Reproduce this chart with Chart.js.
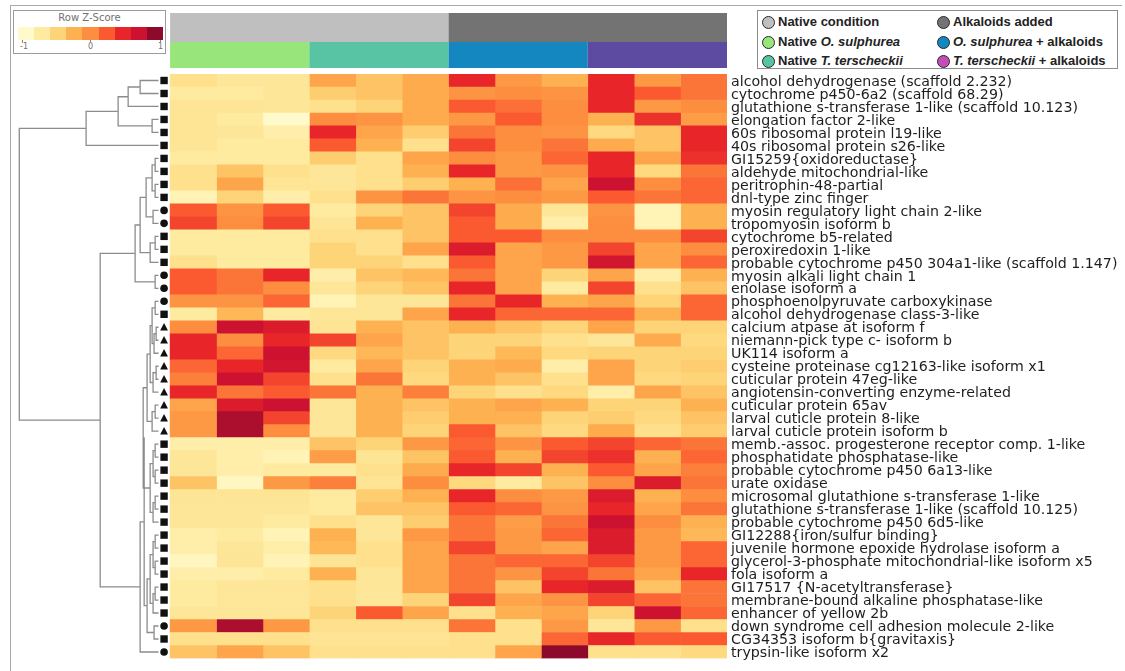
<!DOCTYPE html>
<html lang="en">
<head>
<meta charset="UTF-8">
<title>Row Z-Score heatmap</title>
<style>
  body { margin: 0; background: #fff; font-family: "DejaVu Sans", sans-serif; }
  #wrap { position: relative; width: 1125px; height: 671px; overflow: hidden; }
  #frame { position: absolute; left: 10px; top: 5px; width: 1111px; height: 700px;
           border-left: 1.5px solid #a8a8a8; border-top: 1.5px solid #a8a8a8; }
  #heat { position: absolute; left: 0; top: 0; }
  #key { position: absolute; left: 13px; top: 10px; width: 151px; height: 42px;
         border: 1.5px solid #9c9c9c; background: #fff; }
  #key .title { position: absolute; left: 0; width: 100%; top: 1px; text-align: center;
                font-size: 10px; color: #707070; }
  #key .bar { position: absolute; left: 4px; top: 16px; width: 145px; height: 13px; display: flex; }
  #key .bar span { flex: 1; }
  #key .tick { position: absolute; top: 31px; font-size: 8px; color: #707070; }
  #key .tick::before { content: ""; position: absolute; left: 2px; top: -2px; width: 1px; height: 3px; background: #888; }
  #groups { position: absolute; left: 757px; top: 10px; width: 359px; height: 57px;
            border: 1.5px solid #8c8c8c; background: #fff; }
  .item { position: absolute; font: bold 13px "Liberation Sans", Arial, sans-serif; color: #222;
          white-space: nowrap; line-height: 16px; }
  .item i { font-style: italic; }
  .dot { display: inline-block; width: 11px; height: 11px; border-radius: 50%;
         border: 1.8px solid #2a2a2a; vertical-align: -3px; margin-right: 3px; }
</style>
</head>
<body>
<div id="wrap">
  <div id="frame"></div>
  <canvas id="heat" width="1125" height="671"></canvas>
  <div id="key">
    <div class="title">Row Z-Score</div>
    <div class="bar" id="keyBar"></div>
    <div class="tick" style="left:6px">-1</div>
    <div class="tick" style="left:74px">0</div>
    <div class="tick" style="left:144px">1</div>
  </div>
  <div id="groups"></div>
</div>
<script src="https://cdn.jsdelivr.net/npm/chart.js"></script>
<script>
// genes (rows, top to bottom, in dendrogram order)
const genes = [
  'alcohol dehydrogenase (scaffold 2.232)',
  'cytochrome p450-6a2 (scaffold 68.29)',
  'glutathione s-transferase 1-like (scaffold 10.123)',
  'elongation factor 2-like',
  '60s ribosomal protein l19-like',
  '40s ribosomal protein s26-like',
  'GI15259{oxidoreductase}',
  'aldehyde mitochondrial-like',
  'peritrophin-48-partial',
  'dnl-type zinc finger',
  'myosin regulatory light chain 2-like',
  'tropomyosin isoform b',
  'cytochrome b5-related',
  'peroxiredoxin 1-like',
  'probable cytochrome p450 304a1-like (scaffold 1.147)',
  'myosin alkali light chain 1',
  'enolase isoform a',
  'phosphoenolpyruvate carboxykinase',
  'alcohol dehydrogenase class-3-like',
  'calcium atpase at isoform f',
  'niemann-pick type c- isoform b',
  'UK114 isoform a',
  'cysteine proteinase cg12163-like isoform x1',
  'cuticular protein 47eg-like',
  'angiotensin-converting enzyme-related',
  'cuticular protein 65av',
  'larval cuticle protein 8-like',
  'larval cuticle protein isoform b',
  'memb.-assoc. progesterone receptor comp. 1-like',
  'phosphatidate phosphatase-like',
  'probable cytochrome p450 6a13-like',
  'urate oxidase',
  'microsomal glutathione s-transferase 1-like',
  'glutathione s-transferase 1-like (scaffold 10.125)',
  'probable cytochrome p450 6d5-like',
  'GI12288{iron/sulfur binding}',
  'juvenile hormone epoxide hydrolase isoform a',
  'glycerol-3-phosphate mitochondrial-like isoform x5',
  'fola isoform a',
  'GI17517 {N-acetyltransferase}',
  'membrane-bound alkaline phosphatase-like',
  'enhancer of yellow 2b',
  'down syndrome cell adhesion molecule 2-like',
  'CG34353 isoform b{gravitaxis}',
  'trypsin-like isoform x2'
];

// marker next to each row: s = square, c = circle, t = triangle
const rowShapes = ['s','s','s','s','s','s','s','s','s','s','c','c','s','s','s','c','c','c','s',
  't','t','t','t','t','t','t','t','t',
  's','s','s','s','s','s','s','s','s','s','s','s','s','s','c','s','c'];

// row z-scores, three replicates per condition
const osulNative = [
  [-0.63,-0.70,-0.70],[-0.75,-0.75,-0.70],[-0.68,-0.68,-0.70],[-0.68,-0.75,-1.00],[-0.68,-0.70,-0.80],
  [-0.68,-0.75,-0.75],[-0.75,-0.75,-0.75],[-0.63,-0.38,-0.63],[-0.63,-0.16,-0.68],[-0.88,-0.50,-0.80],
  [0.25,-0.04,0.25],[0.35,0.00,0.35],[-0.75,-0.75,-0.75],[-0.75,-0.75,-0.75],[-0.63,-0.75,-0.75],
  [0.25,0.12,0.50],[0.25,0.12,0.00],[-0.04,-0.04,0.19],[-0.75,-0.30,-0.75],[0.00,0.75,0.62],
  [0.50,0.00,0.50],[0.50,0.19,0.75],[0.19,0.50,0.70],[0.07,0.75,0.35],[0.50,0.12,0.25],
  [-0.16,0.62,0.75],[-0.08,0.88,0.35],[-0.08,0.88,0.00],[-0.80,-0.80,-0.80],[-0.70,-0.80,-0.88],
  [-0.70,-0.80,-0.75],[-0.38,-0.95,-0.08],[-0.68,-0.68,-0.68],[-0.70,-0.70,-0.70],[-0.70,-0.70,-0.75],
  [-0.80,-0.75,-0.88],[-0.80,-0.70,-0.80],[-0.93,-0.68,-0.88],[-0.80,-0.80,-0.75],[-0.75,-0.70,-0.70],
  [-0.75,-0.70,-0.70],[-0.70,-0.70,-0.70],[-0.08,0.88,-0.08],[-0.63,-0.63,-0.63],[-0.38,-0.16,-0.38]
];
const ttersNative = [
  [-0.16,-0.38,-0.21],[-0.45,-0.38,-0.21],[-0.63,-0.50,-0.21],[0.00,-0.04,-0.21],[0.50,-0.16,-0.45],
  [0.25,-0.25,-0.63],[-0.45,-0.63,-0.16],[-0.70,-0.63,-0.25],[-0.70,-0.63,-0.45],[-0.63,-0.04,0.12],
  [-0.75,-0.50,-0.38],[-0.68,-0.25,-0.38],[-0.63,-0.63,-0.38],[-0.50,-0.63,-0.16],[-0.50,-0.50,-0.63],
  [-0.80,-0.38,-0.30],[-0.70,-0.50,-0.38],[-0.88,-0.70,-0.70],[-0.70,-0.70,-0.16],[-0.68,-0.25,-0.38],
  [0.35,-0.16,-0.38],[-0.55,-0.30,-0.38],[-0.75,-0.16,-0.50],[-0.63,0.12,-0.55],[0.12,-0.25,0.07],
  [-0.70,-0.25,-0.38],[-0.70,-0.25,-0.45],[-0.70,-0.25,-0.50],[-0.38,-0.50,-0.08],[-0.11,-0.68,-0.38],
  [-0.75,-0.63,-0.21],[0.07,-0.68,0.00],[-0.75,-0.45,-0.25],[-0.75,-0.38,-0.38],[-0.63,-0.70,-0.45],
  [-0.25,-0.70,-0.08],[-0.30,-0.63,-0.16],[-0.68,-0.63,-0.16],[-0.25,-0.70,-0.16],[-0.63,-0.70,-0.16],
  [-0.63,-0.70,-0.50],[-0.50,0.25,-0.16],[-0.63,-0.63,-0.63],[-0.68,-0.68,-0.68],[-0.63,-0.63,-0.63]
];
const osulAlk = [
  [0.50,-0.08,-0.25],[-0.04,0.00,-0.04],[0.25,0.15,0.00],[-0.08,0.25,0.00],[0.12,0.00,-0.04],
  [0.35,0.00,0.12],[0.00,-0.08,0.19],[0.50,-0.08,-0.04],[-0.25,0.15,-0.16],[-0.04,0.00,-0.08],
  [0.35,-0.21,-0.70],[0.25,-0.21,-0.80],[0.25,0.25,0.00],[0.62,-0.16,-0.08],[0.25,-0.16,-0.08],
  [0.12,-0.16,-0.50],[0.50,-0.16,-0.75],[0.12,0.50,-0.25],[0.50,0.19,0.19],[-0.25,-0.38,-0.50],
  [-0.50,-0.50,-0.63],[-0.50,-0.30,-0.55],[-0.25,-0.21,-0.80],[-0.25,-0.38,-0.63],[-0.50,-0.63,-0.55],
  [-0.25,-0.16,-0.25],[-0.25,-0.25,-0.50],[0.25,-0.38,-0.55],[0.19,-0.04,0.25],[0.25,-0.25,0.35],
  [0.50,0.35,-0.25],[-0.55,-0.75,-0.38],[0.50,0.00,-0.08],[0.25,0.19,-0.04],[0.12,-0.11,0.12],
  [0.12,-0.08,0.19],[0.35,-0.08,-0.16],[0.12,0.19,0.19],[0.12,-0.04,0.35],[0.12,-0.38,0.50],
  [0.35,-0.16,-0.04],[-0.63,-0.25,-0.16],[0.12,-0.63,-0.08],[-0.63,-0.63,0.19],[-0.63,-0.16,1.00]
];
const ttersAlk = [
  [0.50,-0.08,0.12],[0.50,0.25,0.12],[0.50,-0.08,0.00],[-0.25,0.45,-0.11],[-0.55,-0.38,0.50],
  [-0.21,-0.38,0.50],[0.50,-0.16,0.45],[0.50,-0.55,0.12],[0.75,0.00,0.19],[0.25,0.12,0.19],
  [-0.04,-0.88,-0.25],[0.00,-0.88,-0.25],[0.00,0.00,0.35],[0.35,-0.16,0.00],[0.70,-0.16,0.19],
  [-0.16,-0.80,-0.25],[0.35,-0.63,-0.38],[-0.16,-0.50,0.19],[0.19,-0.25,0.19],[-0.16,-0.50,-0.50],
  [-0.70,-0.21,-0.55],[-0.50,-0.50,-0.50],[-0.16,-0.50,-0.45],[-0.16,-0.55,-0.50],[-0.80,-0.16,-0.38],
  [-0.50,-0.50,-0.25],[-0.45,-0.55,-0.38],[-0.21,-0.63,-0.45],[0.35,0.19,0.12],[0.45,-0.25,0.19],
  [0.25,-0.16,0.07],[0.00,0.62,0.12],[0.62,-0.25,0.00],[0.50,-0.16,0.12],[0.75,0.00,-0.25],
  [0.62,-0.08,-0.30],[0.62,-0.08,0.19],[0.35,-0.08,0.19],[0.12,-0.16,0.50],[0.62,-0.38,0.12],
  [0.35,0.19,0.12],[-0.50,0.75,0.19],[-0.70,-0.08,-0.63],[0.50,0.25,0.25],[-0.63,-0.63,-0.55]
];

// sample annotation
const conditions = ['Native condition', 'Alkaloids added'];
const conditionColors = ['#bfbfbf', '#737373'];
const treatments = ['Native O. sulphurea', 'Native T. terscheckii', 'O. sulphurea + alkaloids', 'T. terscheckii + alkaloids'];
const treatmentColors = ['#98e57b', '#58c4a3', '#1487c0', '#5d4ba1'];
const treatmentDots = ['#98e57b', '#58c4a3', '#1487c0', '#c34cb8'];

// colour key
const keyTicks = [-1, 0, 1];
const zColors = ['#fffacb', '#feeba0', '#fed478', '#feb150', '#fd8e40', '#fb5a30', '#e8262a', '#cc1230', '#8e0a2a'];

// row dendrogram: [left, right, height], leaves are row indexes
const clusterTop = [[[[0, 1, 0.132], 2, 0.218], [3, 4, 0.046], 0.29], 5, 0.52];
const clusterMid = [[[[[6, 7, 0.024], [8, 9, 0.024], 0.046], [10, 11, 0.039], 0.089],
                     [[12, 13, 0.024], 14, 0.06], 0.132],
                    [15, 16, 0.024], 0.168];
const clusterTri = [[[[17, 18, 0.024], [[19, 20, 0.017], 21, 0.032], 0.046], [[22, 23, 0.017], 24, 0.039], 0.06],
                    [[25, 26, 0.024], 27, 0.046], 0.082];
const clusterSq1 = [[[28, 29, 0.024], [30, 31, 0.024], 0.039], [[32, 33, 0.024], 34, 0.039], 0.06];
const clusterSq2 = [[[[35, 36, 0.024], [37, 38, 0.024], 0.039], [[39, 40, 0.024], 41, 0.039], 0.06],
                    [42, 43, 0.032], 0.082];
const clusterLow = [[[clusterTri, clusterSq1, 0.11], clusterSq2, 0.103], 44, 0.132];
const rowTree = [clusterTop, [clusterMid, clusterLow, 0.419], 1.0];

function hexToRgb(h) {
  return [parseInt(h.slice(1, 3), 16), parseInt(h.slice(3, 5), 16), parseInt(h.slice(5, 7), 16)];
}
function zColor(z) {
  const t = Math.max(0, Math.min(1, (z + 1) / 2)) * (zColors.length - 1);
  const i = Math.min(Math.floor(t), zColors.length - 2);
  const f = t - i;
  const a = hexToRgb(zColors[i]), b = hexToRgb(zColors[i + 1]);
  const c = a.map((v, k) => Math.round(v + (b[k] - v) * f));
  return 'rgb(' + c.join(',') + ')';
}

// one dataset per sample column
const groups = [osulNative, ttersNative, osulAlk, ttersAlk];
const datasets = [];
groups.forEach(g => {
  for (let k = 0; k < 3; k++) {
    datasets.push({
      data: genes.map(() => 1),
      backgroundColor: g.map(r => zColor(r[k])),
      borderWidth: 0,
      barPercentage: 1,
      categoryPercentage: 1,
      stack: 'cells'
    });
  }
});

const leafX = -0.25;   // x value where leaves end
const treeSpan = 3.0;  // x units for height 1

const extras = {
  id: 'extras',
  afterDatasetsDraw(chart) {
    const { ctx } = chart;
    const x = chart.scales.x, y = chart.scales.y;
    ctx.save();

    // column annotation bars
    conditions.forEach((c, i) => {
      const x0 = x.getPixelForValue(i * 6), x1 = x.getPixelForValue(i * 6 + 6);
      ctx.fillStyle = conditionColors[i];
      ctx.fillRect(x0, 13, x1 - x0, 29);
    });
    treatments.forEach((t, i) => {
      const x0 = x.getPixelForValue(i * 3), x1 = x.getPixelForValue(i * 3 + 3);
      ctx.fillStyle = treatmentColors[i];
      ctx.fillRect(x0, 42, x1 - x0, 26);
    });

    // row markers
    ctx.fillStyle = '#111';
    const mx = x.getPixelForValue(-0.13);
    rowShapes.forEach((s, i) => {
      const my = y.getPixelForValue(i);
      ctx.beginPath();
      if (s === 's') {
        ctx.rect(mx - 3.7, my - 3.7, 7.4, 7.4);
      } else if (s === 'c') {
        ctx.arc(mx, my, 3.8, 0, Math.PI * 2);
      } else {
        ctx.moveTo(mx, my - 4.2);
        ctx.lineTo(mx + 3.9, my + 3.3);
        ctx.lineTo(mx - 3.9, my + 3.3);
        ctx.closePath();
      }
      ctx.fill();
    });

    // dendrogram
    ctx.strokeStyle = '#8c8c8c';
    ctx.lineWidth = 1.3;
    ctx.beginPath();
    const drawNode = node => {
      if (typeof node === 'number') {
        return { x: x.getPixelForValue(leafX), y: y.getPixelForValue(node) };
      }
      const a = drawNode(node[0]), b = drawNode(node[1]);
      const nx = x.getPixelForValue(leafX - node[2] * treeSpan);
      ctx.moveTo(a.x, a.y);
      ctx.lineTo(nx, a.y);
      ctx.lineTo(nx, b.y);
      ctx.lineTo(b.x, b.y);
      return { x: nx, y: (a.y + b.y) / 2 };
    };
    drawNode(rowTree);
    ctx.stroke();
    ctx.restore();
  }
};

new Chart(document.getElementById('heat'), {
  type: 'bar',
  data: { labels: genes, datasets: datasets },
  options: {
    indexAxis: 'y',
    responsive: false,
    animation: false,
    layout: { padding: { left: 10, top: 74, bottom: 6, right: 0 } },
    plugins: { legend: { display: false }, tooltip: { enabled: false } },
    scales: {
      x: { type: 'linear', stacked: true, min: -3.45, max: 12, display: false },
      y: {
        type: 'category',
        stacked: true,
        position: 'right',
        grid: { display: false, drawTicks: false },
        border: { display: false },
        ticks: {
          autoSkip: false,
          padding: 4,
          labelOffset: 1.5,
          color: '#1e1e1e',
          font: { family: 'DejaVu Sans', size: 14.2 }
        },
        afterFit(scale) { scale.width = 398; }
      }
    }
  },
  plugins: [extras]
});

// colour key boxes
const keyBar = document.getElementById('keyBar');
zColors.forEach(c => {
  const s = document.createElement('span');
  s.style.background = c;
  keyBar.appendChild(s);
});

// group legend
const legendItems = [
  { html: 'Native condition', color: conditionColors[0], left: 4, top: 3 },
  { html: 'Native <i>O. sulphurea</i>', color: treatmentDots[0], left: 4, top: 23 },
  { html: 'Native <i>T. terscheckii</i>', color: treatmentDots[1], left: 4, top: 42 },
  { html: 'Alkaloids added', color: conditionColors[1], left: 179, top: 3 },
  { html: '<i>O. sulphurea</i> + alkaloids', color: treatmentDots[2], left: 179, top: 23 },
  { html: '<i>T. terscheckii</i> + alkaloids', color: treatmentDots[3], left: 179, top: 42 }
];
const box = document.getElementById('groups');
legendItems.forEach(it => {
  const d = document.createElement('div');
  d.className = 'item';
  d.style.left = it.left + 'px';
  d.style.top = it.top + 'px';
  d.innerHTML = '<span class="dot" style="background:' + it.color + '"></span>' + it.html;
  box.appendChild(d);
});
</script>
</body>
</html>
